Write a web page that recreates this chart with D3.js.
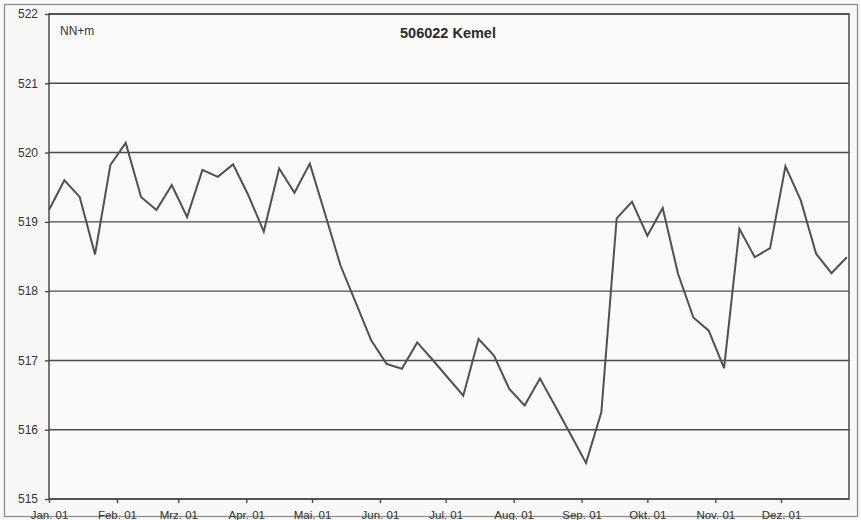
<!DOCTYPE html>
<html>
<head>
<meta charset="utf-8">
<script src="https://cdn.jsdelivr.net/npm/d3@7"></script>
<style>
  html, body { margin: 0; padding: 0; background: #f7f7f5; }
  svg { display: block; font-family: "Liberation Sans", Arial, sans-serif; }
</style>
</head>
<body>
<svg id="chart" width="861" height="520"></svg>
<script>
// ---- data (weekly water levels, NN+m, starting 2001-01-01) ----
const firstDate = "2001-01-01";
const levels = [
  519.17, 519.60, 519.36, 518.53, 519.82, 520.14, 519.36, 519.17, 519.53, 519.07,
  519.75, 519.65, 519.83, 519.38, 518.86, 519.77, 519.42, 519.84, 519.11, 518.37,
  517.83, 517.29, 516.95, 516.88, 517.26, 517.01, 516.75, 516.49, 517.31, 517.07,
  516.59, 516.35, 516.74, 516.34, 515.93, 515.52, 516.25, 519.05, 519.29, 518.80,
  519.20, 518.25, 517.62, 517.43, 516.89, 518.90, 518.49, 518.62, 519.80, 519.31,
  518.54, 518.26, 518.49
];
const monthLabels = ["Jan. 01","Feb. 01","Mrz. 01","Apr. 01","Mai. 01","Jun. 01",
                     "Jul. 01","Aug. 01","Sep. 01","Okt. 01","Nov. 01","Dez. 01"];
const yTicks = [515, 516, 517, 518, 519, 520, 521, 522];
const title = "506022 Kemel";
const unitLabel = "NN+m";

// ---- layout ----
const svg = d3.select("#chart");
const L = 49, R = 849, T = 14, B = 499;
const parse = d3.timeParse("%Y-%m-%d");
const start = parse(firstDate);
const x = d3.scaleTime().domain([start, parse("2002-01-01")]).range([L, R]);
const y = d3.scaleLinear().domain([515, 522]).range([B, T]);
const ink = "#333333";

// outer frame
svg.append("rect").attr("x", 4.5).attr("y", 4.5).attr("width", 853).attr("height", 512)
  .attr("fill", "#f8f8f6").attr("stroke", "#8a8a8a").attr("stroke-width", 1.2);

// plot area
svg.append("rect").attr("x", L).attr("y", T).attr("width", R - L).attr("height", B - T)
  .attr("fill", "#fafaf9").attr("stroke", "none");

// gridlines
svg.append("g").selectAll("line").data(yTicks).join("line")
  .attr("x1", L).attr("x2", R)
  .attr("y1", d => y(d)).attr("y2", d => y(d))
  .attr("stroke", "#4a4a4a").attr("stroke-width", 1.4);

// plot frame
svg.append("rect").attr("x", L).attr("y", T).attr("width", R - L).attr("height", B - T)
  .attr("fill", "none").attr("stroke", "#4a4a4a").attr("stroke-width", 1.5);

// y axis
const yAxis = svg.append("g").attr("transform", `translate(${L},0)`)
  .call(d3.axisLeft(y).tickValues(yTicks).tickSize(4).tickPadding(7).tickFormat(d3.format("d")));
yAxis.select(".domain").remove();
yAxis.selectAll(".tick line").attr("stroke", "#4a4a4a").attr("stroke-width", 1.4);
yAxis.selectAll(".tick text").attr("fill", ink).style("font-size", "12px");

// x axis
const monthTicks = d3.timeMonth.range(start, parse("2002-01-01"));
const xAxis = svg.append("g").attr("transform", `translate(0,${B})`)
  .call(d3.axisBottom(x).tickValues(monthTicks).tickSize(4).tickPadding(7)
        .tickFormat((d, i) => monthLabels[i]));
xAxis.select(".domain").remove();
xAxis.selectAll(".tick line").attr("stroke", "#4a4a4a").attr("stroke-width", 1.4);
xAxis.selectAll(".tick text").attr("fill", ink).style("font-size", "11.5px")
  .attr("dy", "0.75em");

// series
const pts = levels.map((v, i) => ({ date: d3.timeDay.offset(start, 7 * i), value: v }));
svg.append("path").datum(pts)
  .attr("fill", "none").attr("stroke", "#505050").attr("stroke-width", 2)
  .attr("stroke-linejoin", "miter")
  .attr("d", d3.line().x(d => x(d.date)).y(d => y(d.value)));

// texts
svg.append("text").attr("x", 60).attr("y", 35).attr("fill", ink)
  .style("font-size", "12px").text(unitLabel);
svg.append("text").attr("x", 448).attr("y", 38).attr("text-anchor", "middle").attr("fill", "#2a2a2a")
  .style("font-size", "14.5px").style("font-weight", "bold").text(title);
</script>
</body>
</html>
